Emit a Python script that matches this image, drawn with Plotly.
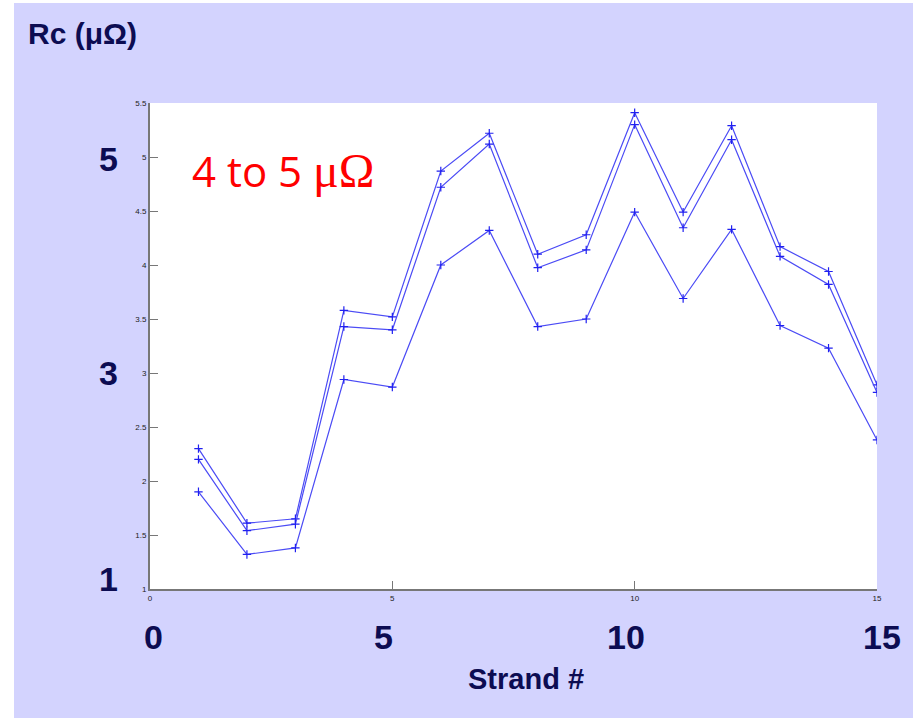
import plotly.graph_objects as go

# ---- data ----
strands = list(range(1, 16))
rc_upper = [2.30, 1.61, 1.65, 3.58, 3.52, 4.87, 5.22, 4.10, 4.28, 5.41, 4.49, 5.29, 4.17, 3.94, 2.89]
rc_middle = [2.20, 1.54, 1.60, 3.43, 3.40, 4.72, 5.12, 3.975, 4.14, 5.30, 4.345, 5.16, 4.08, 3.82, 2.82]
rc_lower = [1.90, 1.32, 1.38, 2.94, 2.87, 4.00, 4.32, 3.43, 3.50, 4.49, 3.69, 4.33, 3.44, 3.23, 2.38]

x_ticks = [0, 5, 10, 15]
y_ticks = [1, 1.5, 2, 2.5, 3, 3.5, 4, 4.5, 5, 5.5]
big_x_labels = [0, 5, 10, 15]
big_y_labels = [1, 3, 5]
title_text = "Rc (μΩ)"
xlabel_text = "Strand #"
note_text = "4 to 5 "
note_unit = "μΩ"

LAV = "#D3D3FE"
NAVY = "#0C0C52"
LINE = "#4B4BF5"
BIGFONT = "Liberation Sans, Arial, sans-serif"

L, R, T, B = 150, 40, 103, 129
W, H = 917, 718
pw, ph = W - L - R, H - T - B


def px2x(px):
    return (px - L) / pw


def py2y(py):
    return (H - B - py) / ph


fig = go.Figure()
for ys in (rc_upper, rc_middle, rc_lower):
    fig.add_trace(go.Scatter(
        x=strands, y=ys, mode="lines+markers",
        line=dict(color=LINE, width=1.2),
        marker=dict(symbol="cross-thin", size=6, line=dict(color="#2020F0", width=1.2)),
        showlegend=False, hoverinfo="skip",
    ))

annotations = []
# big y labels (placed on the y scale, left of the plot)
y_shifts = [10, 0, -2]
for v, s in zip(big_y_labels, y_shifts):
    annotations.append(dict(x=px2x(108), y=v, xref="paper", yref="y", text=f"<b>{v}</b>",
                            showarrow=False, yshift=s, xanchor="center", yanchor="middle",
                            font=dict(family=BIGFONT, size=34, color=NAVY)))
# big x labels (placed on the x scale, below the plot)
x_shifts = [3, -9, -9, 5]
for v, s in zip(big_x_labels, x_shifts):
    annotations.append(dict(x=v, y=py2y(637), xref="x", yref="paper", text=f"<b>{v}</b>",
                            showarrow=False, xshift=s, xanchor="center", yanchor="middle",
                            font=dict(family=BIGFONT, size=34, color=NAVY)))
annotations.append(dict(x=px2x(526), y=py2y(679), xref="paper", yref="paper",
                        text=f"<b>{xlabel_text}</b>", showarrow=False,
                        xanchor="center", yanchor="middle",
                        font=dict(family=BIGFONT, size=29, color=NAVY)))
annotations.append(dict(x=px2x(26), y=py2y(33), xref="paper", yref="paper",
                        text=f"<b>{title_text}</b>", showarrow=False,
                        xanchor="left", yanchor="middle",
                        font=dict(family=BIGFONT, size=30, color=NAVY)))
annotations.append(dict(x=px2x(190), y=py2y(170), xref="paper", yref="paper",
                        xanchor="left", yanchor="middle",
                        text=note_text + "<span style=\"font-family:'Liberation Serif';font-size:48px\">"
                        + note_unit + "</span>",
                        showarrow=False,
                        font=dict(family="Open Sans, sans-serif", size=42, color="#FF0000")))

shapes = [
    dict(type="rect", xref="paper", yref="paper", x0=px2x(-2), x1=px2x(14), y0=py2y(720), y1=py2y(-2),
         fillcolor="white", line=dict(width=0), layer="below"),
    dict(type="rect", xref="paper", yref="paper", x0=px2x(-2), x1=px2x(920), y0=py2y(3), y1=py2y(-2),
         fillcolor="white", line=dict(width=0), layer="below"),
    dict(type="rect", xref="paper", yref="paper", x0=px2x(913), x1=px2x(920), y0=py2y(720), y1=py2y(-2),
         fillcolor="white", line=dict(width=0), layer="below"),
]

fig.update_layout(
    width=W, height=H,
    margin=dict(l=L, r=R, t=T, b=B, pad=0),
    paper_bgcolor=LAV, plot_bgcolor="white",
    annotations=annotations, shapes=shapes,
    xaxis=dict(range=[0, 15], tickvals=x_ticks, ticktext=[str(v) for v in x_ticks],
               ticks="inside", ticklen=8, tickcolor="#777777", tickwidth=1,
               showline=True, linecolor="#777777", linewidth=2, showgrid=False, zeroline=False,
               tickfont=dict(family="Liberation Sans, sans-serif", size=8, color="#222222")),
    yaxis=dict(range=[1, 5.5], tickvals=y_ticks, ticktext=[f"{v:g}" for v in y_ticks],
               ticks="inside", ticklen=8, tickcolor="#777777", tickwidth=1,
               showline=True, linecolor="#777777", linewidth=2, showgrid=False, zeroline=False,
               tickfont=dict(family="Liberation Sans, sans-serif", size=8, color="#222222")),
)

fig.write_html("out.html")
